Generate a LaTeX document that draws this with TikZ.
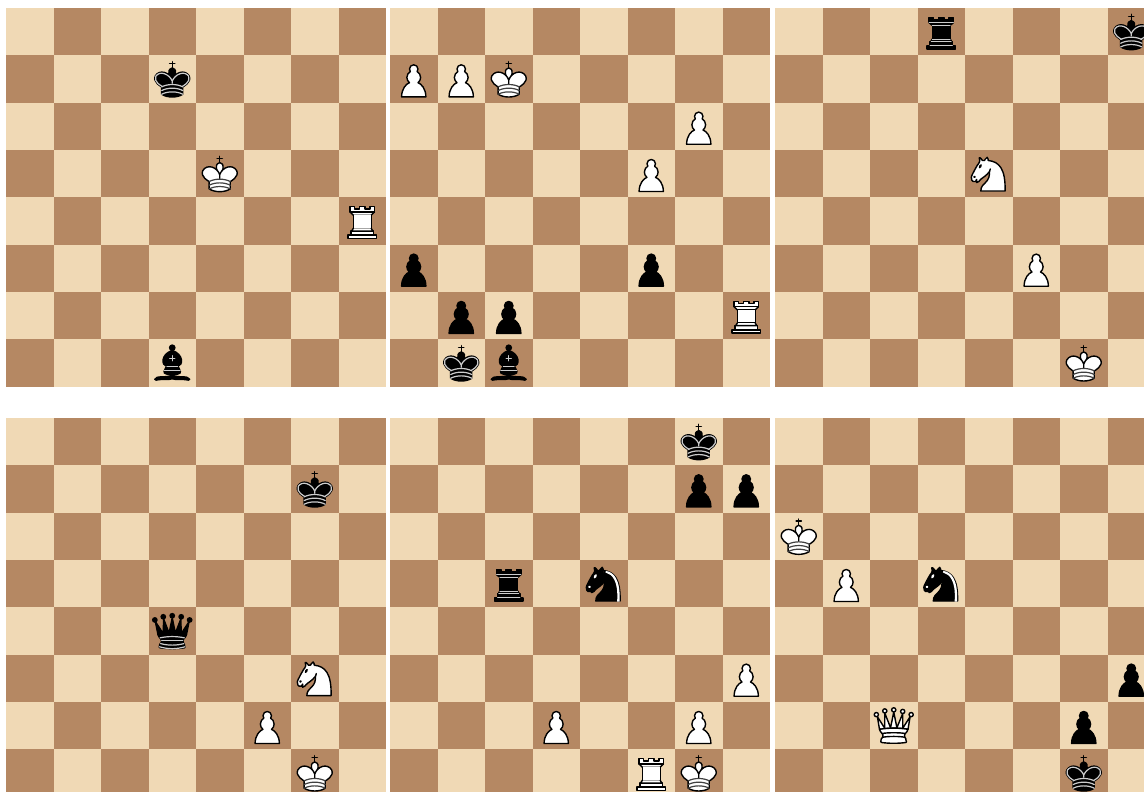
\documentclass[tikz,border=0pt]{standalone}
\definecolor{lightsq}{HTML}{F0D9B5}
\definecolor{darksq}{HTML}{B58863}
\tikzset{
  cell/.style = {x=47.5pt,y=-47.33pt},
  piece/.style = {x=1.055pt,y=-1.052pt,line width=1.4pt,line cap=round,line join=round},
  inner/.style = {line width=1.2pt,draw=#1,fill=none},
  pics/board/.style = {code={
    \fill[lightsq] (0,0) rectangle (8,8);
    \foreach \col in {0,...,7} {
      \foreach \row in {0,...,7} {
        \ifodd\numexpr\col+\row\relax
          \fill[darksq] (\col,\row) rectangle ++(1,1);
        \fi
      }
    }
  }},
  pics/pawn/.style = {code={
    \begin{scope}[piece]
      \filldraw[fill=#1] (22.5,9) .. controls (20.29,9) and (18.5,10.79) .. (18.5,13) .. controls (18.5,13.89) and (18.79,14.71) .. (19.28,15.38) .. controls (17.33,16.5) and (16,18.59) .. (16,21) .. controls (16,23.03) and (16.94,24.84) .. (18.41,26.03) .. controls (15.41,27.09) and (11,31.58) .. (11,39.5) -- (34,39.5) .. controls (34,31.58) and (29.59,27.09) .. (26.59,26.03) .. controls (28.06,24.84) and (29,23.03) .. (29,21) .. controls (29,18.59) and (27.67,16.5) .. (25.72,15.38) .. controls (26.21,14.71) and (26.5,13.89) .. (26.5,13) .. controls (26.5,10.79) and (24.71,9) .. (22.5,9) -- cycle;
    \end{scope}
  }},
  pics/kingshape/.style = {code={
    \begin{scope}[piece]
      \draw (22.5,11.63) -- (22.5,6);
      \draw (20,8) -- (25,8);
      \filldraw[fill=#1] (22.5,25) .. controls (22.5,25) and (27,17.5) .. (25.5,14.5) .. controls (25.5,14.5) and (24.5,12) .. (22.5,12) .. controls (20.5,12) and (19.5,14.5) .. (19.5,14.5) .. controls (18,17.5) and (22.5,25) .. (22.5,25) -- cycle;
      \filldraw[fill=#1] (12.5,37) .. controls (18,40.5) and (27,40.5) .. (32.5,37) -- (32.5,30) .. controls (32.5,30) and (41.5,25.5) .. (38.5,19.5) .. controls (34.5,13) and (25,16) .. (22.5,23.5) -- (22.5,27) -- (22.5,23.5) .. controls (20,16) and (10.5,13) .. (6.5,19.5) .. controls (3.5,25.5) and (12.5,30) .. (12.5,30) -- cycle;
    \end{scope}
  }},
  pics/wk/.style = {code={
    \pic {kingshape=white};
    \begin{scope}[piece]
      \draw[inner=black!75] (12.5,30) .. controls (18,27) and (27,27) .. (32.5,30);
      \draw[inner=black!75] (12.5,33.5) .. controls (18,30.5) and (27,30.5) .. (32.5,33.5);
      \draw[inner=black!75] (12.5,37) .. controls (18,34) and (27,34) .. (32.5,37);
    \end{scope}
  }},
  pics/bk/.style = {code={
    \pic {kingshape=black};
    \begin{scope}[piece]
      \draw[inner=white!80!black] (32,29.5) .. controls (32,29.5) and (40.5,25.5) .. (38.03,19.85) .. controls (34.15,14) and (25,18) .. (22.5,24.5) -- (22.5,26.6) -- (22.5,24.5) .. controls (20,18) and (10.85,14) .. (6.97,19.85) .. controls (4.5,25.5) and (13,29.5) .. (13,29.5);
      \draw[inner=white!80!black] (12.5,30) .. controls (18,27) and (27,27) .. (32.5,30);
      \draw[inner=white!80!black] (12.5,33.5) .. controls (18,30.5) and (27,30.5) .. (32.5,33.5);
      \draw[inner=white!80!black] (12.5,37) .. controls (18,34) and (27,34) .. (32.5,37);
    \end{scope}
  }},
  pics/wr/.style = {code={
    \begin{scope}[piece]
      \filldraw[fill=white] (9,39) -- (36,39) -- (36,36) -- (9,36) -- cycle;
      \filldraw[fill=white] (12,36) -- (12,32) -- (33,32) -- (33,36) -- cycle;
      \filldraw[fill=white] (11,14) -- (11,9) -- (15,9) -- (15,11) -- (20,11) -- (20,9) -- (25,9) -- (25,11) -- (30,11) -- (30,9) -- (34,9) -- (34,14);
      \filldraw[fill=white] (34,14) -- (31,17) -- (14,17) -- (11,14);
      \filldraw[fill=white] (31,17) -- (31,29.5) -- (14,29.5) -- (14,17);
      \filldraw[fill=white] (31,29.5) -- (32.5,32) -- (12.5,32) -- (14,29.5);
      \draw (11,14) -- (34,14);
    \end{scope}
  }},
  pics/br/.style = {code={
    \begin{scope}[piece]
      \filldraw[fill=black] (9,39) -- (36,39) -- (36,36) -- (9,36) -- cycle;
      \filldraw[fill=black] (12.5,32) -- (14,29.5) -- (31,29.5) -- (32.5,32) -- cycle;
      \filldraw[fill=black] (12,36) -- (12,32) -- (33,32) -- (33,36) -- cycle;
      \filldraw[fill=black] (14,29.5) -- (14,16.5) -- (31,16.5) -- (31,29.5) -- cycle;
      \filldraw[fill=black] (14,16.5) -- (11,14) -- (34,14) -- (31,16.5) -- cycle;
      \filldraw[fill=black] (11,14) -- (11,9) -- (15,9) -- (15,11) -- (20,11) -- (20,9) -- (25,9) -- (25,11) -- (30,11) -- (30,9) -- (34,9) -- (34,14) -- cycle;
      \draw[inner=white!80!black,line width=0.9pt] (12,35.5) -- (33,35.5);
      \draw[inner=white!80!black,line width=0.9pt] (13,31.5) -- (32,31.5);
      \draw[inner=white!80!black,line width=0.9pt] (14,29.5) -- (31,29.5);
      \draw[inner=white!80!black,line width=0.9pt] (14,16.5) -- (31,16.5);
      \draw[inner=white!80!black,line width=0.9pt] (11,14) -- (34,14);
    \end{scope}
  }},
  pics/bb/.style = {code={
    \begin{scope}[piece]
      \filldraw[fill=black] (9,36) .. controls (12.39,35.03) and (19.11,36.43) .. (22.5,34) .. controls (25.89,36.43) and (32.61,35.03) .. (36,36) .. controls (36,36) and (37.65,36.54) .. (39,38) .. controls (38.32,38.97) and (37.35,38.99) .. (36,38.5) .. controls (32.61,37.53) and (25.89,38.96) .. (22.5,37.5) .. controls (19.11,38.96) and (12.39,37.53) .. (9,38.5) .. controls (7.646,38.99) and (6.677,38.97) .. (6,38) .. controls (7.354,36.06) and (9,36) .. (9,36) -- cycle;
      \filldraw[fill=black] (15,32) .. controls (17.5,34.5) and (27.5,34.5) .. (30,32) .. controls (30.5,30.5) and (30,30) .. (30,30) .. controls (30,27.5) and (27.5,26) .. (27.5,26) .. controls (33,24.5) and (33.5,14.5) .. (22.5,10.5) .. controls (11.5,14.5) and (12,24.5) .. (17.5,26) .. controls (17.5,26) and (15,27.5) .. (15,30) .. controls (15,30) and (14.5,30.5) .. (15,32) -- cycle;
      \filldraw[fill=black] (22.5,8) circle [radius=2.5];
      \draw[inner=white!80!black] (17.5,26) -- (27.5,26);
      \draw[inner=white!80!black] (15,30) -- (30,30);
      \draw[inner=white!80!black] (22.5,15.5) -- (22.5,20.5);
      \draw[inner=white!80!black] (20,18) -- (25,18);
    \end{scope}
  }},
  pics/knightshape/.style = {code={
    \begin{scope}[piece]
      \filldraw[fill=#1] (22,10) .. controls (32.5,11) and (38.5,18) .. (38,39) -- (15,39) .. controls (15,30) and (25,32.5) .. (23,18);
      \filldraw[fill=#1] (24,18) .. controls (24.38,20.91) and (18.45,25.37) .. (16,27) .. controls (13,29) and (13.18,31.34) .. (11,31) .. controls (9.958,30.06) and (12.41,27.96) .. (11,28) .. controls (10,28) and (11.19,29.23) .. (10,30) .. controls (9,30) and (5.997,31) .. (6,26) .. controls (6,24) and (12,14) .. (12,14) .. controls (12,14) and (13.89,12.1) .. (14,10.5) .. controls (13.27,9.506) and (13.5,8.5) .. (13.5,7.5) .. controls (14.5,6.5) and (16.5,10) .. (16.5,10) -- (18.5,10) .. controls (18.5,10) and (19.28,8.008) .. (21,7) .. controls (22,7) and (22,10) .. (22,10);
    \end{scope}
  }},
  pics/wn/.style = {code={
    \pic {knightshape=white};
    \begin{scope}[piece]
      \filldraw[fill=black] (9,25.5) circle [radius=0.5];
      \filldraw[fill=black,rotate around={-30:(14.5,15.5)}] (14.5,15.5) ellipse [x radius=0.5,y radius=1.5];
    \end{scope}
  }},
  pics/bn/.style = {code={
    \pic {knightshape=black};
    \begin{scope}[piece]
      \filldraw[draw=white,fill=white] (9,25.5) circle [radius=0.5];
      \filldraw[draw=white,fill=white,rotate around={-30:(14.5,15.5)}] (14.5,15.5) ellipse [x radius=0.5,y radius=1.5];
      \fill[white] (24.55,10.4) -- (24.1,11.85) -- (24.6,12) .. controls (27.75,13) and (30.25,14.49) .. (32.5,18.75) .. controls (34.75,23.01) and (35.75,29.06) .. (35.25,39) -- (35.2,39.5) -- (37.45,39.5) -- (37.5,39) .. controls (38,28.94) and (36.62,22.15) .. (34.25,17.66) .. controls (31.88,13.17) and (28.46,11.02) .. (25.06,10.5) -- cycle;
    \end{scope}
  }},
  pics/wq/.style = {code={
    \begin{scope}[piece]
      \filldraw[fill=white] (6,12) circle [radius=2];
      \filldraw[fill=white] (14,8.5) circle [radius=2];
      \filldraw[fill=white] (22.5,7.5) circle [radius=2];
      \filldraw[fill=white] (31,9) circle [radius=2];
      \filldraw[fill=white] (39,12) circle [radius=2];
      \filldraw[fill=white] (9,26) .. controls (17.5,24.5) and (30,24.5) .. (36,26) -- (38,14) -- (31,25) -- (31,11) -- (25.5,24.5) -- (22.5,9.5) -- (19.5,24.5) -- (14,10.5) -- (14,25) -- (7,14) -- cycle;
      \filldraw[fill=white] (9,26) .. controls (9,28) and (10.5,28) .. (11.5,30) .. controls (12.5,31.5) and (12.5,31) .. (12,33.5) .. controls (10.5,34.5) and (10.5,36) .. (10.5,36) .. controls (9,37.5) and (11,38.5) .. (11,38.5) .. controls (17.5,39.5) and (27.5,39.5) .. (34,38.5) .. controls (34,38.5) and (35.5,37.5) .. (34,36) .. controls (34,36) and (34.5,34.5) .. (33,33.5) .. controls (32.5,31) and (32.5,31.5) .. (33.5,30) .. controls (34.5,28) and (36,28) .. (36,26) .. controls (27.5,24.5) and (17.5,24.5) .. (9,26) -- cycle;
      \draw (11.5,30) .. controls (15,29) and (30,29) .. (33.5,30);
      \draw (12,33.5) .. controls (18,32.5) and (27,32.5) .. (33,33.5);
    \end{scope}
  }},
  pics/bq/.style = {code={
    \begin{scope}[piece]
      \fill (6,12) circle [radius=2.75];
      \fill (14,9) circle [radius=2.75];
      \fill (22.5,8) circle [radius=2.75];
      \fill (31,9) circle [radius=2.75];
      \fill (39,12) circle [radius=2.75];
      \filldraw[fill=black] (9,26) .. controls (17.5,24.5) and (30,24.5) .. (36,26) -- (38.5,13.5) -- (31,25) -- (30.7,10.9) -- (25.5,24.5) -- (22.5,10) -- (19.5,24.5) -- (14.3,10.9) -- (14,25) -- (6.5,13.5) -- cycle;
      \filldraw[fill=black] (9,26) .. controls (9,28) and (10.5,28) .. (11.5,30) .. controls (12.5,31.5) and (12.5,31) .. (12,33.5) .. controls (10.5,34.5) and (10.5,36) .. (10.5,36) .. controls (9,37.5) and (11,38.5) .. (11,38.5) .. controls (17.5,39.5) and (27.5,39.5) .. (34,38.5) .. controls (34,38.5) and (35.5,37.5) .. (34,36) .. controls (34,36) and (34.5,34.5) .. (33,33.5) .. controls (32.5,31) and (32.5,31.5) .. (33.5,30) .. controls (34.5,28) and (36,28) .. (36,26) .. controls (27.5,24.5) and (17.5,24.5) .. (9,26) -- cycle;
      \draw[inner=white!80!black] (11,29) .. controls (18.5,27.4) and (26.5,27.4) .. (34,29);
      \draw[inner=white!80!black] (12.5,31.5) -- (32.5,31.5);
      \draw[inner=white!80!black] (11.5,34.5) .. controls (18.5,36.4) and (26.5,36.4) .. (33.5,34.5);
      \draw[inner=white!80!black] (10.5,37.5) .. controls (18.5,39.9) and (26.5,39.9) .. (34.5,37.5);
    \end{scope}
  }},
}
\begin{document}
\begin{tikzpicture}[x=1pt,y=-1pt]
  \path[use as bounding box,clip] (0,0) rectangle (1144,792);

  \begin{scope}[shift={(6,8)},cell]
    \pic (boardA) at (0,0) {board};
    \pic (a1) at (3,1) {bk};
    \pic (a2) at (4,3) {wk};
    \pic (a3) at (7,4) {wr};
    \pic (a4) at (3,7) {bb};
  \end{scope}

  \begin{scope}[shift={(390,8)},cell]
    \pic (boardB) at (0,0) {board};
    \pic (b1) at (0,1) {pawn=white};
    \pic (b2) at (1,1) {pawn=white};
    \pic (b3) at (2,1) {wk};
    \pic (b4) at (6,2) {pawn=white};
    \pic (b5) at (5,3) {pawn=white};
    \pic (b6) at (0,5) {pawn=black};
    \pic (b7) at (5,5) {pawn=black};
    \pic (b8) at (1,6) {pawn=black};
    \pic (b9) at (2,6) {pawn=black};
    \pic (b10) at (7,6) {wr};
    \pic (b11) at (1,7) {bk};
    \pic (b12) at (2,7) {bb};
  \end{scope}

  \begin{scope}[shift={(775,8)},cell]
    \pic (boardC) at (0,0) {board};
    \pic (c1) at (3,0) {br};
    \pic (c2) at (7,0) {bk};
    \pic (c3) at (4,3) {wn};
    \pic (c4) at (5,5) {pawn=white};
    \pic (c5) at (6,7) {wk};
  \end{scope}

  \begin{scope}[shift={(6,418)},cell]
    \pic (boardD) at (0,0) {board};
    \pic (d1) at (6,1) {bk};
    \pic (d2) at (3,4) {bq};
    \pic (d3) at (6,5) {wn};
    \pic (d4) at (5,6) {pawn=white};
    \pic (d5) at (6,7) {wk};
  \end{scope}

  \begin{scope}[shift={(390,418)},cell]
    \pic (boardE) at (0,0) {board};
    \pic (e1) at (6,0) {bk};
    \pic (e2) at (6,1) {pawn=black};
    \pic (e3) at (7,1) {pawn=black};
    \pic (e4) at (2,3) {br};
    \pic (e5) at (4,3) {bn};
    \pic (e6) at (7,5) {pawn=white};
    \pic (e7) at (3,6) {pawn=white};
    \pic (e8) at (6,6) {pawn=white};
    \pic (e9) at (5,7) {wr};
    \pic (e10) at (6,7) {wk};
  \end{scope}

  \begin{scope}[shift={(775,418)},cell]
    \pic (boardF) at (0,0) {board};
    \pic (f1) at (0,2) {wk};
    \pic (f2) at (1,3) {pawn=white};
    \pic (f3) at (3,3) {bn};
    \pic (f4) at (7,5) {pawn=black};
    \pic (f5) at (2,6) {wq};
    \pic (f6) at (6,6) {pawn=black};
    \pic (f7) at (6,7) {bk};
  \end{scope}
\end{tikzpicture}
\end{document}
